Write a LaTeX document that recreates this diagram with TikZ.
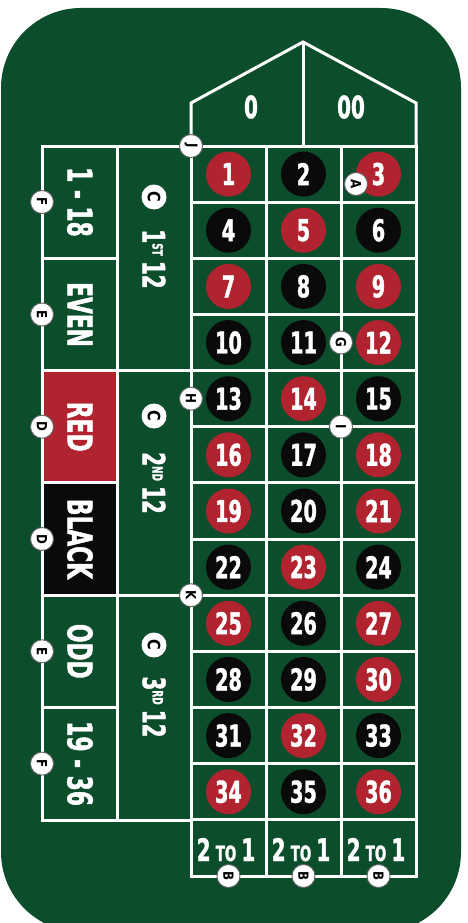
\documentclass[tikz,border=0pt]{standalone}
\usepackage{fontspec}
\newfontfamily\rfont{DejaVu Sans}[FakeStretch=0.64,BoldFeatures={FakeBold=1.3}]
\newfontfamily\mfont{DejaVu Sans}[FakeStretch=0.85]
\definecolor{felt}{HTML}{0C4D2B}
\definecolor{rred}{HTML}{B0232F}
\definecolor{rblack}{HTML}{0A0A0A}
\begin{document}
\begin{tikzpicture}[x=1pt,y=-1pt,line join=miter,
  wl/.style={draw=white,line width=3pt},
  numc/.style={circle,minimum size=45pt,inner sep=0pt,text=white,
    font=\rfont\bfseries\fontsize{30}{30}\selectfont},
  mk/.style={circle,fill=white,draw=black!60,line width=0.9pt,minimum size=23pt,
    inner sep=0pt,rotate=-90,text=black,font=\mfont\bfseries\fontsize{14}{14}\selectfont},
  mkc/.style={circle,fill=white,minimum size=25pt,inner sep=0pt,rotate=-90,
    text=black,font=\mfont\bfseries\fontsize{17}{17}\selectfont},
  oside/.style={rotate=-90,inner sep=0pt,text=white,
    font=\rfont\bfseries\fontsize{34}{34}\selectfont},
  dozen/.style={rotate=-90,inner sep=0pt,text=white,
    font=\rfont\bfseries\fontsize{31}{31}\selectfont},
  wtxt/.style={inner sep=0pt,text=white,font=\rfont\bfseries\fontsize{31}{31}\selectfont}]
\useasboundingbox (0,0) rectangle (468,923);
% felt
\fill[felt,rounded corners=80pt] (1,8) rectangle (461,932);
% red / black boxes
\fill[rred] (42,370.6) rectangle (117,482.9);
\fill[rblack] (42,482.9) rectangle (117,595.2);
% outside bets frame
\draw[wl] (42,146) rectangle (191,820);
\draw[wl] (117,146) -- (117,820);
\foreach \k in {1,...,5}{\draw[wl] (42,146+112.3*\k) -- (117,146+112.3*\k);}
\draw[wl] (117,370.6) -- (191,370.6);
\draw[wl] (117,595.2) -- (191,595.2);
% number grid
\draw[wl] (191,146) rectangle (416,876);
\draw[wl] (266,146) -- (266,876);
\draw[wl] (341,146) -- (341,876);
\foreach \k in {1,...,12}{\draw[wl] (191,146+56.15*\k) -- (416,146+56.15*\k);}
% zero area
\draw[wl] (191,146) -- (191,103) -- (303,42) -- (416,103) -- (416,146);
\draw[wl] (303,42) -- (303,146);
\node[wtxt] (z0) at (251,107) {0};
\node[wtxt] (z00) at (351,107) {00};
% numbers
\foreach \n/\col in {1/rred,2/rblack,3/rred,4/rblack,5/rred,6/rblack,7/rred,8/rblack,9/rred,
  10/rblack,11/rblack,12/rred,13/rblack,14/rred,15/rblack,16/rred,17/rblack,18/rred,
  19/rred,20/rblack,21/rred,22/rblack,23/rred,24/rblack,25/rred,26/rblack,27/rred,
  28/rblack,29/rblack,30/rred,31/rblack,32/rred,33/rblack,34/rred,35/rblack,36/rred}{
  \pgfmathtruncatemacro{\r}{(\n-1)/3}
  \pgfmathtruncatemacro{\c}{\n-1-3*\r}
  \node[numc,fill=\col] (n\n) at (228.5+75*\c,146+56.15*\r+28.1) {\n};
}
% 2 to 1
\foreach \i/\x in {1/226,2/301,3/376}{
  \node[inner sep=0pt,anchor=base,text=white,font=\rfont\bfseries] (col\i) at (\x,861)
    {\fontsize{31}{31}\selectfont 2\,{\fontsize{21}{21}\selectfont TO}\,1};
}
% outside labels
\node[oside] (o1) at (80,202) {1 - 18};
\node[oside] (o2) at (80,314.5) {EVEN};
\node[oside] (o3) at (80,426.7) {RED};
\node[oside] (o4) at (80,539) {BLACK};
\node[oside] (o5) at (80,651.3) {ODD};
\node[oside] (o6) at (80,763.6) {19 - 36};
% dozens
\node[dozen] (d1) at (154,259) {1\raisebox{10pt}{\fontsize{14}{14}\selectfont ST}\,12};
\node[dozen] (d2) at (154,483) {2\raisebox{10pt}{\fontsize{14}{14}\selectfont ND}\,12};
\node[dozen] (d3) at (154,707) {3\raisebox{10pt}{\fontsize{14}{14}\selectfont RD}\,12};
\node[mkc] (c1) at (154,197) {C};
\node[mkc] (c2) at (154,416) {C};
\node[mkc] (c3) at (154,645) {C};
% markers
\node[mk] (mF1) at (42,202) {F};
\node[mk] (mE1) at (42,314.5) {E};
\node[mk] (mD1) at (42,426.7) {D};
\node[mk] (mD2) at (42,539) {D};
\node[mk] (mE2) at (42,651.3) {E};
\node[mk] (mF2) at (42,763.6) {F};
\node[mk] (mJ) at (191,146) {J};
\node[mk] (mA) at (356,184) {A};
\node[mk] (mG) at (341,342.5) {G};
\node[mk] (mI) at (341,426.7) {I};
\node[mk] (mH) at (191,398.7) {H};
\node[mk] (mK) at (191,595.2) {K};
\node[mk] (mB1) at (228.5,876) {B};
\node[mk] (mB2) at (303.5,876) {B};
\node[mk] (mB3) at (378.5,876) {B};
\end{tikzpicture}
\end{document}
